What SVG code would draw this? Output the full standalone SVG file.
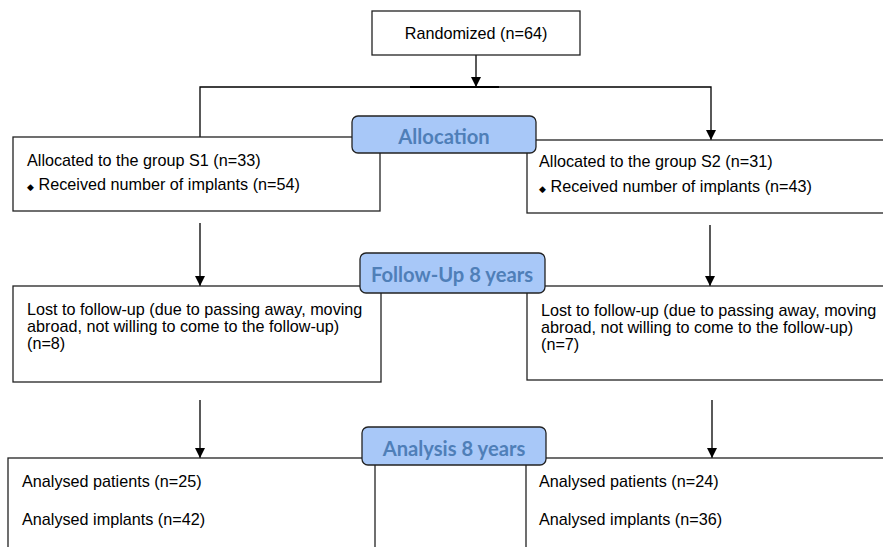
<svg xmlns="http://www.w3.org/2000/svg" width="883" height="547" viewBox="0 0 883 547">
<defs>
<marker id="arr" viewBox="0 0 10 10" refX="10" refY="5" markerWidth="10" markerHeight="10" markerUnits="userSpaceOnUse" orient="auto">
<path d="M0,0 L10,5 L0,10 z" fill="#000"/>
</marker>
<style>
.box{fill:#fff;stroke:#222;stroke-width:1.3}
.lab{fill:#a8c8f8;stroke:#222;stroke-width:1.3}
.t{font-family:"Liberation Sans",Arial,sans-serif;font-size:16.2px;fill:#000}
.lt{font-family:Lato,"Open Sans",sans-serif;font-weight:bold;font-size:20.2px;fill:#4f7fb8;text-anchor:middle}
.c{stroke:#000;stroke-width:1.3;fill:none}
</style>
</defs>
<rect width="883" height="547" fill="#fff"/>
<g id="connectors">
<line class="c" x1="476" y1="55" x2="476" y2="87" marker-end="url(#arr)"/>
<polyline class="c" points="200,137 200,87 711,87 711,140" marker-end="url(#arr)"/>
<line x1="410" y1="87" x2="499" y2="87" stroke="#000" stroke-width="2.2"/>
<line class="c" x1="200" y1="223" x2="200" y2="286" marker-end="url(#arr)"/>
<line class="c" x1="710" y1="225" x2="710" y2="286" marker-end="url(#arr)"/>
<line class="c" x1="200" y1="400" x2="200" y2="458" marker-end="url(#arr)"/>
<line class="c" x1="712" y1="400" x2="712" y2="458" marker-end="url(#arr)"/>
</g>
<g id="randomized">
<rect class="box" x="372" y="11" width="208" height="44"/>
<text class="t" x="476" y="39" text-anchor="middle">Randomized (n=64)</text>
</g>
<g id="s1">
<rect class="box" x="13" y="137" width="367" height="74"/>
<text class="t" x="27" y="166">Allocated to the group S1 (n=33)</text>
<text class="t" x="27" y="190"><tspan font-size="9">◆</tspan> Received number of implants (n=54)</text>
</g>
<g id="s2">
<rect class="box" x="527" y="140" width="370" height="73"/>
<text class="t" x="539" y="167">Allocated to the group S2 (n=31)</text>
<text class="t" x="539" y="192"><tspan font-size="9">◆</tspan> Received number of implants (n=43)</text>
</g>
<g id="allocation">
<rect class="lab" x="352" y="116" width="184" height="37" rx="6"/>
<text class="lt" x="444" y="144">Allocation</text>
</g>
<g id="lost1">
<rect class="box" x="13" y="286" width="368" height="96"/>
<text class="t" x="27" y="314.5">Lost to follow-up (due to passing away, moving</text>
<text class="t" x="27" y="331.5">abroad, not willing to come to the follow-up)</text>
<text class="t" x="27" y="348.5">(n=8)</text>
</g>
<g id="lost2">
<rect class="box" x="527" y="286" width="370" height="94"/>
<text class="t" x="541" y="316">Lost to follow-up (due to passing away, moving</text>
<text class="t" x="541" y="333">abroad, not willing to come to the follow-up)</text>
<text class="t" x="541" y="350">(n=7)</text>
</g>
<g id="followup">
<rect class="lab" x="360" y="253" width="185" height="40" rx="6"/>
<text class="lt" x="452" y="282">Follow-Up 8 years</text>
</g>
<g id="analysed1">
<rect class="box" x="8" y="458" width="367" height="100"/>
<text class="t" x="22" y="487">Analysed patients (n=25)</text>
<text class="t" x="22" y="525">Analysed implants (n=42)</text>
</g>
<g id="analysed2">
<rect class="box" x="526" y="458" width="370" height="100"/>
<text class="t" x="539" y="487">Analysed patients (n=24)</text>
<text class="t" x="539" y="525">Analysed implants (n=36)</text>
</g>
<g id="analysis">
<rect class="lab" x="362" y="427" width="184" height="38" rx="6"/>
<text class="lt" x="454" y="456">Analysis 8 years</text>
</g>
</svg>
